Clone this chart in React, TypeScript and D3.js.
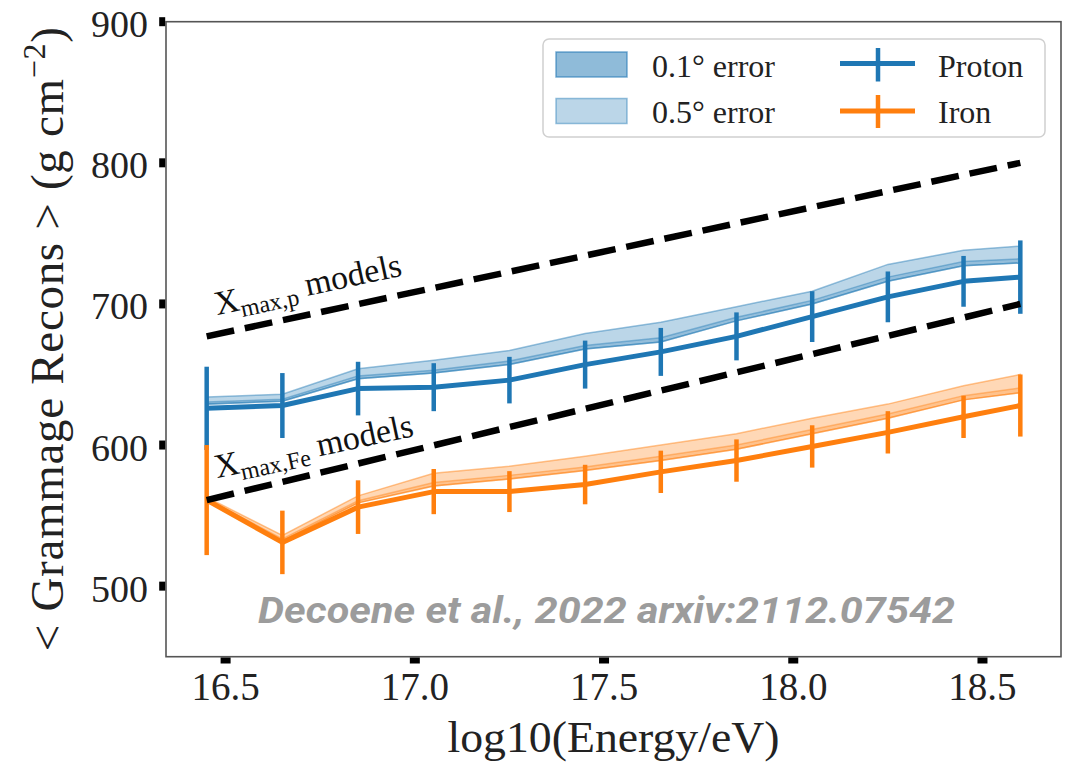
import React from "react";
import * as d3 from "d3";

const energy = [16.45, 16.65, 16.85, 17.05, 17.25, 17.45, 17.65, 17.85, 18.05, 18.25, 18.45, 18.6];
const protonMean = [626, 628, 640, 641, 646, 657, 666, 677, 691, 705, 716, 719];
const protonErr = [29.5, 23, 19, 17, 16.5, 17, 17, 17, 18, 18, 18, 26];
const ironMean = [561, 531, 556, 567, 567, 572, 581, 589, 599, 609, 620, 628];
const ironErr = [39, 22.5, 19, 16, 14.5, 14, 15, 15, 15, 15, 15, 22];

const protonBand05Lo = [629, 631, 647, 651, 657, 668, 673, 688, 700, 716, 727, 729];
const protonBand05Hi = [634, 636, 654, 660, 667, 679, 687, 698, 709, 728, 738, 741];
const protonBand01Lo = [629, 631, 647, 651, 657, 668, 673, 688, 700, 716, 727, 729];
const protonBand01Hi = [630.5, 632.5, 649, 653, 659.5, 670.5, 676, 690.5, 702.5, 719, 730, 732];

const ironBand05Lo = [561, 532, 559, 571, 576, 582, 589, 597, 608, 619, 632, 637];
const ironBand05Hi = [563, 536, 564, 580, 585, 592, 600, 608, 619, 629, 642, 650];
const ironBand01Lo = [561, 532, 559, 571, 576, 582, 589, 597, 608, 619, 632, 637];
const ironBand01Hi = [562, 533.5, 560.5, 573.5, 578.5, 584.5, 592, 600, 611, 622, 635, 640.5];

const modelEnergy = [16.45, 18.6];
const modelProton = [677, 800];
const modelIron = [561, 700];

const xTicks = [16.5, 17.0, 17.5, 18.0, 18.5];
const yTicks = [500, 600, 700, 800, 900];

const BLUE = "#1f77b4";
const ORANGE = "#ff7f0e";
const SERIF = "'Liberation Serif', 'DejaVu Serif', serif";

export default function App() {
  const W = 1072, H = 777;
  const L = 166, R = 1061, T = 21.7, B = 656.7;
  const x = d3.scaleLinear().domain([16.3425, 18.7075]).range([L, R]);
  const y = d3.scaleLinear().domain([450, 900]).range([B, T]);

  const line = d3.line<number>().x((_, i) => x(energy[i])).y((d) => y(d));
  const area = (lo: number[], hi: number[]) =>
    d3.area<number>()
      .x((_, i) => x(energy[i]))
      .y0((_, i) => y(lo[i]))
      .y1((_, i) => y(hi[i]))(lo) || "";
  const modelLine = d3.line<number>().x((_, i) => x(modelEnergy[i])).y((d) => y(d));

  const band = (lo: number[], hi: number[], color: string, op: number, key: string) => (
    <path key={key} d={area(lo, hi)} fill={color} fillOpacity={op} stroke={color} strokeOpacity={op + 0.15} strokeWidth={1.5} />
  );

  const series = (mean: number[], err: number[], color: string) => (
    <g>
      {mean.map((m, i) => (
        <line key={i} x1={x(energy[i])} x2={x(energy[i])} y1={y(m - err[i])} y2={y(m + err[i])} stroke={color} strokeWidth={4.5} />
      ))}
      <path d={line(mean) || ""} fill="none" stroke={color} strokeWidth={5} strokeLinejoin="round" />
    </g>
  );

  const slope = Math.atan2(y(modelProton[1]) - y(modelProton[0]), x(modelEnergy[1]) - x(modelEnergy[0])) * 180 / Math.PI;

  return (
    <svg width={W} height={H} style={{ position: "absolute", left: 0, top: 0, background: "#fff" }}>
      {band(protonBand05Lo, protonBand05Hi, BLUE, 0.3, "p5")}
      {band(protonBand01Lo, protonBand01Hi, BLUE, 0.25, "p1")}
      {band(ironBand05Lo, ironBand05Hi, ORANGE, 0.3, "i5")}
      {band(ironBand01Lo, ironBand01Hi, ORANGE, 0.25, "i1")}
      {series(protonMean, protonErr, BLUE)}
      {series(ironMean, ironErr, ORANGE)}
      <path d={modelLine(modelProton) || ""} fill="none" stroke="#000" strokeWidth={6.5} strokeDasharray="28,11" />
      <path d={modelLine(modelIron) || ""} fill="none" stroke="#000" strokeWidth={6.5} strokeDasharray="28,11" />
      <text transform={`translate(${x(16.477)},${y(692)}) rotate(${slope})`} fontFamily={SERIF} fontSize={34} fill="#111">
        X<tspan fontSize={24} dy={7}>max,p</tspan><tspan dy={-7}> models</tspan>
      </text>
      <text transform={`translate(${x(16.477)},${y(576.5)}) rotate(${slope})`} fontFamily={SERIF} fontSize={34} fill="#111">
        X<tspan fontSize={24} dy={7}>max,Fe</tspan><tspan dy={-7}> models</tspan>
      </text>
      <text x={258} y={623} fontFamily="Roboto, 'Open Sans', sans-serif" fontStyle="italic" fontWeight={700} fontSize={36} fill="#9c9c9c" textLength={697} lengthAdjust="spacingAndGlyphs">
        Decoene et al., 2022 arxiv:2112.07542
      </text>
      <rect x={L} y={T} width={R - L} height={B - T} fill="none" stroke="#555" strokeWidth={1.6} />
      {xTicks.map((t) => (
        <g key={t}>
          <rect x={x(t) - 5} y={B + 0.8} width={10} height={6} fill="#000" />
          <text x={x(t)} y={700} textAnchor="middle" fontFamily={SERIF} fontSize={39} fill="#222">{t.toFixed(1)}</text>
        </g>
      ))}
      {yTicks.map((t) => (
        <g key={t}>
          <rect x={L - 6.8} y={y(t) - 4.5} width={6} height={9} fill="#000" />
          <text x={148} y={y(t) + 15.5} textAnchor="end" fontFamily={SERIF} fontSize={38} fill="#222">{t}</text>
        </g>
      ))}
      <text x={613.5} y={752} textAnchor="middle" fontFamily={SERIF} fontSize={44} fill="#222" textLength={332} lengthAdjust="spacingAndGlyphs">
        log10(Energy/eV)
      </text>
      <text transform={`translate(63,${(T + B) / 2}) rotate(-90)`} textAnchor="middle" fontFamily={SERIF} fontSize={47} fill="#222" textLength={624} lengthAdjust="spacing">
        {"< Grammage Recons >   (g cm"}<tspan fontSize={32} dy={-18}>−2</tspan><tspan dy={18}>)</tspan>
      </text>
      <rect x={543} y={39} width={502} height={98} rx={6} fill="#fff" fillOpacity={0.8} stroke="#d0d0d0" strokeWidth={1.5} />
      <rect x={556} y={52} width={71} height={25} fill={BLUE} fillOpacity={0.5} stroke={BLUE} strokeOpacity={0.6} strokeWidth={1.5} />
      <rect x={556} y={98.5} width={71} height={25} fill={BLUE} fillOpacity={0.3} stroke={BLUE} strokeOpacity={0.45} strokeWidth={1.5} />
      <text x={652} y={76.7} fontFamily={SERIF} fontSize={32} fill="#222">0.1° error</text>
      <text x={652} y={123.3} fontFamily={SERIF} fontSize={32} fill="#222">0.5° error</text>
      <line x1={840} x2={915} y1={63.5} y2={63.5} stroke={BLUE} strokeWidth={5} />
      <line x1={878} x2={878} y1={48} y2={81.5} stroke={BLUE} strokeWidth={4.5} />
      <line x1={840} x2={915} y1={111} y2={111} stroke={ORANGE} strokeWidth={5} />
      <line x1={878} x2={878} y1={95} y2={128} stroke={ORANGE} strokeWidth={4.5} />
      <text x={938} y={76.7} fontFamily={SERIF} fontSize={32} fill="#222">Proton</text>
      <text x={938} y={123.3} fontFamily={SERIF} fontSize={32} fill="#222">Iron</text>
    </svg>
  );
}
